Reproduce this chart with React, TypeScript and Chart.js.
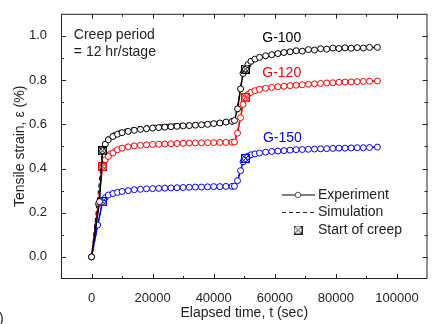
import React, { useEffect, useRef } from "react";
import { Chart, registerables } from "chart.js";

Chart.register(...registerables);

const FONT = 'Arial, "Liberation Sans", Helvetica, sans-serif';

// ---- axis ticks ----
const xTickValues = [0, 20000, 40000, 60000, 80000, 100000];
const xMinorValues = [10000, 30000, 50000, 70000, 90000];
const yTickValues = [0.0, 0.2, 0.4, 0.6, 0.8, 1.0];
const yMinorValues = [0.1, 0.3, 0.5, 0.7, 0.9];

// ---- time bases (sec) ----
const tLoadG100 = [0, 2600];
const tLoadG120 = [0, 2200];
const tLoadG150 = [0, 2000];
const tCreep1 = [3600, 4500, 5500, 7000, 8500, 10000, 12000, 14000, 16000, 18000, 20000, 22000, 24000,
  26000, 28000, 30000, 32000, 34000, 36000, 38000, 40000, 42000, 44000, 46000, 46800];
const tLoad2 = [47800, 48800, 49600];
const tCreep2 = [50400, 51200, 52200, 53500, 55000, 57000, 59000, 61000, 63000, 65000, 67000, 69000,
  71000, 73000, 75000, 77000, 79000, 81000, 83000, 85000, 87000, 89000, 91000, 93600];

// ---- experiment strains (%) ----
const loadG100 = [0, 0.25];
const creep1G100 = [0.48, 0.51, 0.53, 0.545, 0.555, 0.562, 0.568, 0.573, 0.577, 0.58, 0.583, 0.585, 0.587,
  0.589, 0.591, 0.593, 0.594, 0.596, 0.598, 0.6, 0.603, 0.606, 0.61, 0.613, 0.617];
const load2G100 = [0.67, 0.76, 0.83];
const creep2G100 = [0.85, 0.87, 0.885, 0.895, 0.903, 0.91, 0.915, 0.92, 0.925, 0.928, 0.933, 0.931,
  0.938, 0.936, 0.942, 0.94, 0.945, 0.943, 0.946, 0.944, 0.947, 0.945, 0.948, 0.948];

const loadG120 = [0, 0.24];
const creep1G120 = [0.41, 0.44, 0.455, 0.47, 0.485, 0.492, 0.498, 0.502, 0.505, 0.507, 0.509, 0.51, 0.511,
  0.512, 0.513, 0.514, 0.515, 0.516, 0.516, 0.517, 0.517, 0.518, 0.518, 0.519, 0.52];
const load2G120 = [0.56, 0.63, 0.69];
const creep2G120 = [0.72, 0.735, 0.745, 0.752, 0.758, 0.763, 0.767, 0.77, 0.772, 0.775, 0.777, 0.779,
  0.781, 0.783, 0.785, 0.787, 0.788, 0.79, 0.791, 0.792, 0.793, 0.794, 0.795, 0.796];

const loadG150 = [0, 0.144];
const creep1G150 = [0.25, 0.268, 0.28, 0.287, 0.292, 0.296, 0.3, 0.304, 0.306, 0.308, 0.309, 0.31, 0.311,
  0.312, 0.313, 0.314, 0.315, 0.316, 0.316, 0.317, 0.318, 0.318, 0.319, 0.319, 0.32];
const load2G150 = [0.345, 0.39, 0.43];
const creep2G150 = [0.445, 0.455, 0.462, 0.466, 0.47, 0.474, 0.477, 0.479, 0.481, 0.483, 0.485, 0.486,
  0.487, 0.488, 0.489, 0.49, 0.491, 0.492, 0.492, 0.493, 0.494, 0.494, 0.495, 0.497];

// ---- simulation ----
const tSim = [0, 3600, 5000, 7000, 10000, 15000, 20000, 25000, 30000, 35000, 40000, 46800, 47800, 48800,
  49600, 50400, 52000, 55000, 60000, 65000, 70000, 75000, 80000, 85000, 90000, 93600];
const simG100 = [0, 0.48, 0.54, 0.56, 0.575, 0.588, 0.595, 0.6, 0.604, 0.607, 0.61, 0.613, 0.68, 0.77,
  0.83, 0.85, 0.89, 0.91, 0.925, 0.933, 0.938, 0.941, 0.943, 0.945, 0.946, 0.947];
const simG120 = [0, 0.41, 0.47, 0.488, 0.5, 0.508, 0.512, 0.515, 0.517, 0.519, 0.52, 0.521, 0.57, 0.64,
  0.7, 0.72, 0.755, 0.768, 0.777, 0.782, 0.786, 0.789, 0.791, 0.793, 0.795, 0.796];
const simG150 = [0, 0.25, 0.285, 0.295, 0.302, 0.308, 0.311, 0.313, 0.315, 0.316, 0.317, 0.318, 0.35, 0.39,
  0.43, 0.445, 0.468, 0.476, 0.482, 0.486, 0.489, 0.491, 0.493, 0.494, 0.495, 0.496];

// ---- start of creep ----
const tCreepStart = [3600, 50400];
const startG100 = [0.48, 0.85];
const startG120 = [0.41, 0.72];
const startG150 = [0.25, 0.445];

const series = [
  { name: "G-100", color: "#000000", tLoad: tLoadG100, load: loadG100, c1: creep1G100, l2: load2G100, c2: creep2G100, sim: simG100, start: startG100 },
  { name: "G-120", color: "#ff0000", tLoad: tLoadG120, load: loadG120, c1: creep1G120, l2: load2G120, c2: creep2G120, sim: simG120, start: startG120 },
  { name: "G-150", color: "#0000ff", tLoad: tLoadG150, load: loadG150, c1: creep1G150, l2: load2G150, c2: creep2G150, sim: simG150, start: startG150 },
];

function zip(xs: number[], ys: number[]) {
  return xs.map((x, i) => ({ x, y: ys[i] }));
}

function boxX(color: string, size = 9) {
  const c = document.createElement("canvas");
  c.width = size;
  c.height = size;
  const g = c.getContext("2d")!;
  g.strokeStyle = color;
  g.lineWidth = 1;
  g.strokeRect(0.5, 0.5, size - 1, size - 1);
  g.beginPath();
  g.moveTo(1, 1);
  g.lineTo(size - 1, size - 1);
  g.moveTo(size - 1, 1);
  g.lineTo(1, size - 1);
  g.stroke();
  return c;
}

const decorPlugin = {
  id: "decor",
  afterDatasetsDraw(chart: any) {
    const { ctx, chartArea: a, scales } = chart;
    const x = scales.x;
    const y = scales.y;
    ctx.save();
    ctx.strokeStyle = "#222";
    ctx.lineWidth = 1;
    ctx.strokeRect(a.left + 0.5, a.top + 0.5, a.right - a.left - 1, a.bottom - a.top - 1);
    ctx.beginPath();
    const xt = (vals: number[], len: number) => {
      vals.forEach((v) => {
        const px = Math.round(x.getPixelForValue(v)) + 0.5;
        ctx.moveTo(px, a.bottom);
        ctx.lineTo(px, a.bottom - len);
        ctx.moveTo(px, a.top);
        ctx.lineTo(px, a.top + len);
      });
    };
    const yt = (vals: number[], len: number) => {
      vals.forEach((v) => {
        const py = Math.round(y.getPixelForValue(v)) + 0.5;
        ctx.moveTo(a.left, py);
        ctx.lineTo(a.left + len, py);
        ctx.moveTo(a.right, py);
        ctx.lineTo(a.right - len, py);
      });
    };
    xt(xTickValues, 5);
    xt(xMinorValues, 3);
    yt(yTickValues, 5);
    yt(yMinorValues, 3);
    ctx.stroke();
    ctx.restore();
  },
  afterDraw(chart: any) {
    const { ctx, scales } = chart;
    const x = scales.x;
    const y = scales.y;
    ctx.save();
    ctx.font = `14px ${FONT}`;
    ctx.textBaseline = "middle";
    ctx.textAlign = "left";
    ctx.fillStyle = "#222";
    ctx.fillText("Creep period", x.getPixelForValue(-5800), y.getPixelForValue(1.003));
    ctx.fillText("= 12 hr/stage", x.getPixelForValue(-5800), y.getPixelForValue(0.928));
    ctx.fillStyle = "#000000";
    ctx.fillText("G-100", x.getPixelForValue(55900), y.getPixelForValue(0.99));
    ctx.fillStyle = "#ff0000";
    ctx.fillText("G-120", x.getPixelForValue(55900), y.getPixelForValue(0.831));
    ctx.fillStyle = "#0000ff";
    ctx.fillText("G-150", x.getPixelForValue(56100), y.getPixelForValue(0.538));

    // legend
    const lx0 = 282, lx1 = 315, tx = 318;
    const r1 = 195, r2 = 212, r3 = 230;
    ctx.strokeStyle = "#555";
    ctx.lineWidth = 1.5;
    ctx.beginPath();
    ctx.moveTo(lx0, r1);
    ctx.lineTo(lx1, r1);
    ctx.stroke();
    ctx.fillStyle = "#fff";
    ctx.lineWidth = 1;
    ctx.beginPath();
    ctx.arc(298, r1, 2.8, 0, Math.PI * 2);
    ctx.fill();
    ctx.stroke();
    ctx.setLineDash([4, 3]);
    ctx.strokeStyle = "#222";
    ctx.beginPath();
    ctx.moveTo(lx0, r2 + 0.5);
    ctx.lineTo(lx1, r2 + 0.5);
    ctx.stroke();
    ctx.setLineDash([]);
    ctx.drawImage(boxX("#222"), 298 - 4.5, r3 - 4.5);
    ctx.fillStyle = "#222";
    ctx.fillText("Experiment", tx, r1);
    ctx.fillText("Simulation", tx, r2);
    ctx.fillText("Start of creep", tx, r3);

    ctx.textBaseline = "alphabetic";
    ctx.fillText(")", -1, 323);
    ctx.restore();
  },
};

export default function App() {
  const canvasRef = useRef<HTMLCanvasElement>(null);

  useEffect(() => {
    const datasets: any[] = [];
    series.forEach((s) => {
      const tExp = [...s.tLoad, ...tCreep1, ...tLoad2, ...tCreep2];
      const vExp = [...s.load, ...s.c1, ...s.l2, ...s.c2];
      datasets.push({
        label: s.name + " start",
        data: zip(tCreepStart, s.start),
        showLine: false,
        pointStyle: boxX(s.color),
        pointRadius: 4.5,
        borderColor: s.color,
      });
      datasets.push({
        label: s.name + " experiment",
        data: zip(tExp, vExp),
        showLine: true,
        borderColor: s.color,
        borderWidth: 1.5,
        tension: 0,
        pointRadius: 3,
        pointBorderWidth: 1,
        pointBackgroundColor: "#ffffff",
        pointBorderColor: s.color,
      });
      datasets.push({
        label: s.name + " simulation",
        data: zip(tSim, s.sim),
        showLine: true,
        borderColor: s.color,
        borderWidth: 1,
        borderDash: [4, 3],
        tension: 0,
        pointRadius: 0,
      });
    });

    const chart = new Chart(canvasRef.current!, {
      type: "scatter",
      data: { datasets },
      options: {
        animation: false,
        responsive: false,
        devicePixelRatio: 1,
        layout: { padding: { top: 6, right: 1, bottom: 0, left: 0 } },
        plugins: { legend: { display: false }, tooltip: { enabled: false } },
        scales: {
          x: {
            type: "linear",
            min: -10000,
            max: 110000,
            grid: { display: false },
            border: { display: false },
            afterBuildTicks: (s: any) => {
              s.ticks = xTickValues.map((v) => ({ value: v }));
            },
            afterFit: (s: any) => {
              s.height = 45;
            },
            ticks: {
              autoSkip: false,
              maxRotation: 0,
              padding: 4,
              color: "#222",
              font: { family: FONT, size: 13 },
              callback: (v: any) => String(v),
            },
            title: {
              display: true,
              text: "Elapsed time, t (sec)",
              color: "#222",
              font: { family: FONT, size: 14 },
              padding: { top: 0, bottom: 2 },
            },
          },
          y: {
            type: "linear",
            min: -0.1,
            max: 1.1,
            grid: { display: false },
            border: { display: false },
            afterBuildTicks: (s: any) => {
              s.ticks = yTickValues.map((v) => ({ value: v }));
            },
            afterFit: (s: any) => {
              s.width = 61;
            },
            ticks: {
              autoSkip: false,
              padding: 6,
              color: "#222",
              font: { family: FONT, size: 13 },
              callback: (v: any) => Number(v).toFixed(1),
            },
            title: {
              display: true,
              text: "Tensile strain, ε (%)",
              color: "#222",
              font: { family: FONT, size: 14 },
              padding: { top: 12, bottom: 0 },
            },
          },
        },
      },
      plugins: [decorPlugin],
    } as any);
    return () => chart.destroy();
  }, []);

  return (
    <div style={{ position: "fixed", left: 0, top: 0, width: 433, height: 324, background: "#fff" }}>
      <canvas ref={canvasRef} width={433} height={324} style={{ display: "block" }} />
    </div>
  );
}
